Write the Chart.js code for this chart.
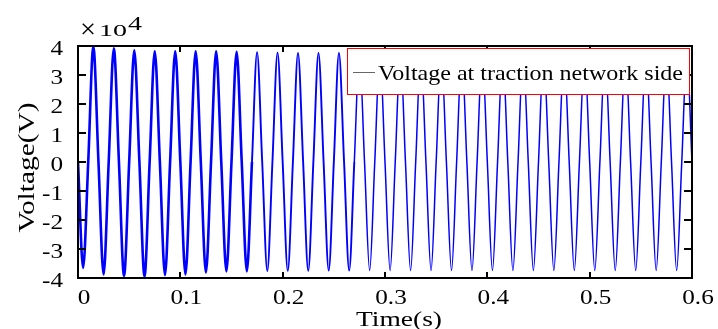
<!DOCTYPE html>
<html>
<head>
<meta charset="utf-8">
<script src="https://cdn.jsdelivr.net/npm/chart.js@4/dist/chart.umd.min.js"></script>
<style>
  html, body { margin: 0; padding: 0; background: #fff; }
</style>
</head>
<body>
<canvas id="voltage" width="718" height="329"></canvas>
<script>
const seriesLabel = 'Voltage at traction network side';

// sample times (s): zero crossings and extrema of each cycle
const time = [
  0, 0.005, 0.01, 0.015, 0.02, 0.025, 0.03, 0.035,
  0.04, 0.045, 0.05, 0.055, 0.06, 0.065, 0.07, 0.075,
  0.08, 0.085, 0.09, 0.095, 0.1, 0.105, 0.11, 0.115,
  0.12, 0.125, 0.13, 0.135, 0.14, 0.145, 0.15, 0.155,
  0.16, 0.165, 0.17, 0.175, 0.18, 0.185, 0.19, 0.195,
  0.2, 0.205, 0.21, 0.215, 0.22, 0.225, 0.23, 0.235,
  0.24, 0.245, 0.25, 0.255, 0.26, 0.265, 0.27, 0.275,
  0.28, 0.285, 0.29, 0.295, 0.3, 0.305, 0.31, 0.315,
  0.32, 0.325, 0.33, 0.335, 0.34, 0.345, 0.35, 0.355,
  0.36, 0.365, 0.37, 0.375, 0.38, 0.385, 0.39, 0.395,
  0.4, 0.405, 0.41, 0.415, 0.42, 0.425, 0.43, 0.435,
  0.44, 0.445, 0.45, 0.455, 0.46, 0.465, 0.47, 0.475,
  0.48, 0.485, 0.49, 0.495, 0.5, 0.505, 0.51, 0.515,
  0.52, 0.525, 0.53, 0.535, 0.54, 0.545, 0.55, 0.555,
  0.56, 0.565, 0.57, 0.575, 0.58, 0.585, 0.59, 0.595,
  0.6
];

// voltage in units of 10^4 V
const voltage = [
  0, -3.65, 0, 3.98, 0, -3.88, 0, 3.92,
  0, -3.93, 0, 3.85, 0, -3.95, 0, 3.82,
  0, -3.90, 0, 3.82, 0, -3.88, 0, 3.82,
  0, -3.81, 0, 3.82, 0, -3.77, 0, 3.80,
  0, -3.77, 0, 3.79, 0, -3.76, 0, 3.77,
  0, -3.75, 0, 3.76, 0, -3.75, 0, 3.76,
  0, -3.74, 0, 3.76, 0, -3.74, 0, 3.75,
  0, -3.74, 0, 3.75, 0, -3.74, 0, 3.74,
  0, -3.74, 0, 3.74, 0, -3.74, 0, 3.74,
  0, -3.74, 0, 3.74, 0, -3.74, 0, 3.74,
  0, -3.74, 0, 3.74, 0, -3.74, 0, 3.74,
  0, -3.74, 0, 3.74, 0, -3.74, 0, 3.74,
  0, -3.74, 0, 3.74, 0, -3.74, 0, 3.74,
  0, -3.74, 0, 3.74, 0, -3.74, 0, 3.74,
  0, -3.74, 0, 3.74, 0, -3.74, 0, 3.74,
  0
];

const xTicks = [0, 0.1, 0.2, 0.3, 0.4, 0.5, 0.6];
const xTickLabels = ['0', '0.1', '0.2', '0.3', '0.4', '0.5', '0.6'];
const yTicks = [-4, -3, -2, -1, 0, 1, 2, 3, 4];
const yTickLabels = ['-4', '-3', '-2', '-1', '0', '1', '2', '3', '4'];

const SERIF = '"Liberation Serif", "Times New Roman", serif';

// text is a bit wider than plain Times in the original, so stretch along the text
function drawText(ctx, str, x, y, size, sx, align, angle) {
  ctx.save();
  ctx.font = size + 'px ' + SERIF;
  ctx.textAlign = align || 'left';
  ctx.textBaseline = 'alphabetic';
  ctx.fillStyle = '#000';
  ctx.translate(x, y);
  if (angle) ctx.rotate(angle);
  ctx.scale(sx, 1);
  ctx.fillText(str, 0, 0);
  ctx.restore();
}

function fitScale(ctx, str, size, width) {
  ctx.save();
  ctx.font = size + 'px ' + SERIF;
  const w = ctx.measureText(str).width;
  ctx.restore();
  return width / w;
}

const matlabAxes = {
  id: 'matlabAxes',
  afterDatasetsDraw(chart) {
    const { ctx, chartArea: a, scales: { x, y } } = chart;
    ctx.save();
    ctx.strokeStyle = '#000';
    ctx.lineWidth = 2;
    ctx.beginPath();
    x.ticks.forEach(t => {
      const px = Math.round(x.getPixelForValue(t.value));
      ctx.moveTo(px, a.bottom); ctx.lineTo(px, a.bottom - 6);
      ctx.moveTo(px, a.top); ctx.lineTo(px, a.top + 6);
    });
    y.ticks.forEach(t => {
      const py = Math.round(y.getPixelForValue(t.value));
      ctx.moveTo(a.left, py); ctx.lineTo(a.left + 8, py);
      ctx.moveTo(a.right, py); ctx.lineTo(a.right - 8, py);
    });
    ctx.stroke();
    ctx.strokeRect(a.left, a.top, a.right - a.left, a.bottom - a.top);
    ctx.restore();

    x.ticks.forEach((t, i) => {
      drawText(ctx, xTickLabels[i], x.getPixelForValue(t.value) + 6, a.bottom + 26, 21, 1.2, 'center');
    });
    y.ticks.forEach((t, i) => {
      drawText(ctx, yTickLabels[i], a.left - 15, y.getPixelForValue(t.value) + 9, 21, 1.2, 'right');
    });

    // axis titles and exponent
    drawText(ctx, 'Time(s)', 399, 326, 22, fitScale(ctx, 'Time(s)', 22, 86), 'center');
    drawText(ctx, 'Voltage(V)', 33.5, 167.5, 24, fitScale(ctx, 'Voltage(V)', 24, 130), 'center', -Math.PI / 2);
    drawText(ctx, '\u00d7', 80, 38, 28, fitScale(ctx, '\u00d7', 28, 16), 'left');
    drawText(ctx, '10', 99, 36, 17, fitScale(ctx, '10', 17, 28), 'left');
    drawText(ctx, '4', 128, 30, 18, fitScale(ctx, '4', 18, 14), 'left');
  },
  afterDraw(chart) {
    const { ctx } = chart;
    const ds = chart.data.datasets[0];
    ctx.save();
    ctx.fillStyle = '#fff';
    ctx.fillRect(347.5, 48.5, 342, 46);
    ctx.strokeStyle = '#ff0000';
    ctx.lineWidth = 1;
    ctx.strokeRect(347.5, 48.5, 342, 46);
    ctx.strokeStyle = '#666';
    ctx.beginPath();
    ctx.moveTo(353, 72.5);
    ctx.lineTo(375, 72.5);
    ctx.stroke();
    ctx.restore();
    drawText(ctx, ds.label, 378, 79.5, 21.5, fitScale(ctx, ds.label, 21.5, 305), 'left');
  }
};

new Chart(document.getElementById('voltage'), {
  type: 'line',
  data: {
    datasets: [{
      label: seriesLabel,
      data: time.map((t, i) => ({ x: t, y: voltage[i] })),
      borderColor: '#0000ff',
      borderWidth: 1.5,
      pointRadius: 0,
      cubicInterpolationMode: 'monotone',
      segment: {
        borderWidth: c => c.p0.parsed.x < 0.17 ? 2.6 : (c.p0.parsed.x < 0.27 ? 1.9 : 1.5)
      }
    }]
  },
  options: {
    responsive: false,
    animation: false,
    layout: { padding: { top: 46, right: 26, left: 0, bottom: 0 } },
    plugins: { legend: { display: false }, tooltip: { enabled: false } },
    scales: {
      x: {
        type: 'linear',
        min: 0,
        max: 0.6,
        afterBuildTicks: s => { s.ticks = xTicks.map(v => ({ value: v })); },
        afterFit: s => { s.height = 51; },
        ticks: { display: false },
        grid: { display: false },
        border: { display: false }
      },
      y: {
        min: -4,
        max: 4,
        afterBuildTicks: s => { s.ticks = yTicks.map(v => ({ value: v })); },
        afterFit: s => { s.width = 78; },
        ticks: { display: false },
        grid: { display: false },
        border: { display: false }
      }
    }
  },
  plugins: [matlabAxes]
});
</script>
</body>
</html>
